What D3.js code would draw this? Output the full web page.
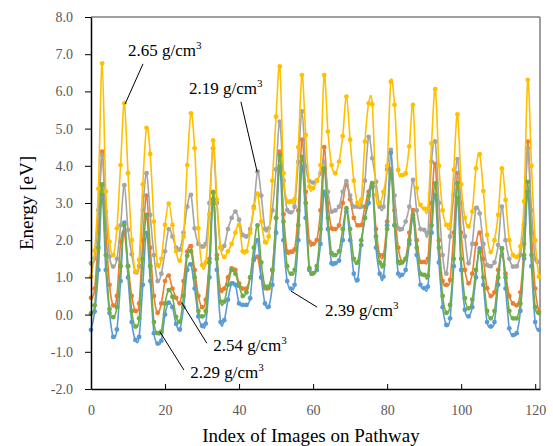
<!DOCTYPE html>
<html>
<head>
<meta charset="utf-8">
<script src="https://cdn.jsdelivr.net/npm/d3@7"></script>
<style>
body { margin: 0; background: #fff; }
svg, text { font-family: "Liberation Serif", "Times New Roman", serif; }
</style>
</head>
<body>
<svg width="553" height="446"></svg>
<script>
// energy along the pathway, one value per image index (0..121)
let yellow = [
1.02,1.72,3.38,6.75,3.31,1.96,
1.60,2.32,4.02,5.68,3.80,2.00,
1.16,1.47,3.50,5.02,4.32,2.50,
1.33,1.50,2.41,2.98,2.41,1.70,
1.45,2.10,4.02,5.41,4.47,2.32,
1.33,1.40,2.70,4.68,3.10,1.80,
1.55,1.70,1.90,2.20,2.41,1.70,
1.70,2.20,2.86,3.25,2.50,1.95,
2.10,3.60,5.32,6.67,3.80,3.04,
3.04,3.10,4.50,6.44,4.83,3.44,
3.40,3.60,4.02,6.44,4.92,4.02,
3.80,4.11,4.80,5.86,4.70,3.60,
3.00,3.08,4.65,5.68,5.65,3.22,
3.00,3.30,4.00,6.26,5.64,3.89,
3.75,3.80,4.52,5.64,3.40,2.95,
2.85,2.85,4.60,6.06,4.00,2.80,
2.41,2.41,3.89,5.38,3.50,2.60,
2.37,2.77,3.93,4.31,3.32,2.14,
1.68,2.00,2.68,3.93,3.08,2.00,
1.60,1.55,1.83,3.04,6.31,4.00,2.00,1.02]

let gray = [
1.38,1.51,2.81,4.29,2.77,1.56,
1.29,1.50,2.40,3.48,2.28,1.62,
1.14,1.30,2.81,3.80,2.68,1.60,
0.90,1.10,1.70,2.30,2.10,1.80,
1.75,2.20,2.90,3.22,2.32,1.90,
1.83,1.90,3.00,4.47,3.00,1.80,
1.85,2.30,2.60,2.77,2.55,2.14,
2.10,2.30,2.90,3.84,3.20,2.30,
2.32,2.80,3.90,5.19,3.60,2.81,
2.75,2.90,4.10,5.46,4.00,3.59,
3.55,3.60,3.80,4.11,3.30,2.77,
2.80,2.90,3.30,3.59,3.20,2.90,
2.90,2.90,3.60,4.78,4.20,3.57,
2.90,2.90,3.90,4.43,3.20,2.32,
2.30,2.50,2.90,3.62,2.80,2.30,
2.28,2.20,4.11,4.65,3.00,1.60,
1.10,2.10,3.22,4.18,3.00,2.10,
1.38,1.90,2.86,2.72,1.90,1.33,
1.30,1.40,1.87,2.90,2.00,1.50,
1.29,1.30,1.60,2.43,4.47,2.80,1.50,1.42]

let orange = [
0.45,0.70,2.20,4.38,2.30,0.80,
0.25,0.50,1.96,2.20,1.30,0.50,
0.10,0.30,2.00,3.20,1.80,0.50,
0.05,0.30,0.90,1.05,0.70,0.45,
0.30,0.90,1.69,1.84,1.20,0.50,
0.20,0.40,1.50,3.30,1.60,0.66,
0.70,1.00,1.24,1.20,0.84,0.70,
0.70,1.00,1.47,1.55,1.00,0.71,
0.71,1.20,2.60,4.38,2.70,1.69,
1.69,1.75,2.80,4.70,3.30,1.96,
1.90,2.00,2.80,4.50,3.00,2.32,
2.30,2.40,3.00,3.49,3.10,2.60,
2.40,2.41,2.90,3.30,3.44,2.30,
1.60,1.60,2.50,3.90,2.80,1.80,
1.42,1.50,2.20,2.81,2.00,1.42,
1.42,1.50,3.00,4.05,2.00,0.90,
0.80,0.93,2.20,3.80,2.20,1.20,
0.84,1.10,1.90,2.20,1.50,0.71,
0.50,0.60,1.20,1.60,1.10,0.50,
0.30,0.25,0.60,1.90,4.65,2.20,0.70,0.08]

let green = [
0.03,0.25,1.80,3.50,1.60,0.15,
-0.07,0.20,1.30,2.41,1.30,0.10,
-0.32,-0.10,1.50,2.68,1.30,-0.20,
-0.50,-0.46,0.30,0.66,0.48,-0.06,
-0.19,0.50,1.58,1.70,1.00,0.10,
-0.05,0.10,1.40,3.28,1.50,0.35,
0.35,0.80,1.20,1.10,0.77,0.50,
0.60,1.00,1.80,2.40,1.40,0.75,
0.75,1.20,2.60,4.29,2.50,1.30,
1.10,1.20,2.40,4.24,3.00,1.25,
1.11,1.30,2.30,3.93,2.60,1.65,
1.60,1.70,2.30,2.86,2.30,1.50,
1.40,2.00,2.60,3.20,3.53,2.10,
1.40,1.33,2.30,3.80,2.40,1.42,
1.40,1.50,2.00,2.68,1.80,1.10,
1.07,1.05,2.40,3.53,1.80,0.50,
0.05,0.26,1.50,3.53,1.50,0.44,
0.17,0.40,1.20,1.69,1.00,0.10,
-0.10,0.10,1.00,1.78,1.00,0.10,
-0.10,-0.10,0.30,1.60,3.57,1.60,0.20,0.04]

let blue = [
-0.41,0.08,1.20,3.22,1.20,0.04,
-0.60,-0.40,0.90,2.47,1.00,-0.20,
-0.68,-0.60,0.80,2.19,0.90,-0.50,
-0.78,-0.70,0.00,0.32,0.20,-0.25,
-0.40,0.20,1.20,1.35,0.70,-0.05,
-0.30,-0.24,1.00,3.10,1.20,-0.20,
-0.15,0.40,0.84,0.80,0.30,0.26,
0.26,0.44,1.50,2.00,1.00,0.30,
0.21,0.80,2.20,3.98,2.00,0.90,
0.70,0.80,2.00,3.98,2.60,1.20,
1.11,1.20,1.90,3.30,2.30,1.38,
1.38,1.45,2.00,2.77,2.00,1.10,
0.93,1.87,2.60,3.00,3.44,1.80,
1.10,1.02,2.40,4.35,2.40,1.10,
1.07,1.20,1.90,2.60,1.60,0.80,
0.71,0.75,2.20,3.22,1.40,0.20,
-0.28,-0.10,1.30,3.13,1.20,0.13,
-0.05,0.20,1.00,1.78,0.80,-0.20,
-0.32,-0.20,0.80,1.78,0.70,-0.37,
-0.55,-0.50,0.10,1.50,3.30,1.30,-0.20,-0.41]

let xTicks = [0, 20, 40, 60, 80, 100, 120]
let yTicks = [-2, -1, 0, 1, 2, 3, 4, 5, 6, 7, 8]

// labels: text, anchor point on the curve, end of the pointer near the text, text position (data units)
let labels = [
  {text: '2.65 g/cm', at: [9.2, 5.66], from: [14.05, 6.74], pos: [10.0, 6.94]},
  {text: '2.19 g/cm', at: [44.9, 3.83], from: [40.5, 5.72], pos: [26.5, 5.93]},
  {text: '2.39 g/cm', at: [54.05, 0.63], from: [61.1, 0.20], pos: [63.2, -0.04]},
  {text: '2.54 g/cm', at: [24.5, 0.32], from: [31.3, -0.77], pos: [33.0, -0.98]},
  {text: '2.29 g/cm', at: [18.6, -0.46], from: [25.1, -1.49], pos: [26.8, -1.70]}
]

let series = [
  {values: orange, color: '#ED7D31'},
  {values: gray, color: '#A5A5A5'},
  {values: yellow, color: '#FFC000'},
  {values: blue, color: '#5B9BD5'},
  {values: green, color: '#70AD47'}
]

let serif = '"Liberation Serif", "Times New Roman", serif'
let svg = d3.select('svg')
let x = d3.scaleLinear().domain([0, 121.3]).range([91, 540])
let y = d3.scaleLinear().domain([-2, 8]).range([389, 17])

// frame of the plot area
svg.append('line').attr('x1', x(0)).attr('x2', x(121.3)).attr('y1', y(8)).attr('y2', y(8))
    .attr('stroke', '#7f7f7f').attr('stroke-width', 1.5)
svg.append('line').attr('x1', x(121.3)).attr('x2', x(121.3)).attr('y1', y(8)).attr('y2', y(-2))
    .attr('stroke', '#7f7f7f').attr('stroke-width', 1.5)

let line = d3.line()
    .x((d, i) => x(i))
    .y(d => y(d))
    .curve(d3.curveCatmullRom.alpha(0))

series.forEach(s => {
    svg.append('path')
        .attr('d', line(s.values))
        .attr('fill', 'none')
        .attr('stroke', s.color)
        .attr('stroke-width', 1.6)
    svg.append('g').selectAll('circle')
        .data(s.values)
        .enter()
        .append('circle')
        .attr('cx', (d, i) => x(i))
        .attr('cy', d => y(d))
        .attr('r', 2.4)
        .attr('fill', s.color)
})

let yAxis = svg.append('g')
    .attr('transform', `translate(${x(0)},0)`)
    .call(d3.axisLeft(y).tickValues(yTicks).tickFormat(d => d.toFixed(1)).tickSize(6).tickSizeOuter(0).tickPadding(12))
    .attr('font-family', serif)
yAxis.select('.domain').attr('stroke', '#000').attr('stroke-width', 1.5)
yAxis.selectAll('.tick line').attr('stroke', '#000')
yAxis.selectAll('.tick text').attr('fill', '#595959').style('font-size', '14px').style('font-family', serif)

let xAxis = svg.append('g')
    .attr('transform', `translate(0,${y(-2)})`)
    .call(d3.axisBottom(x).tickValues(xTicks).tickSize(-5).tickSizeOuter(0).tickPadding(16))
    .attr('font-family', serif)
xAxis.select('.domain').attr('stroke', '#000').attr('stroke-width', 1.5)
xAxis.selectAll('.tick line').attr('stroke', '#000')
xAxis.selectAll('.tick text').attr('fill', '#595959').style('font-size', '14px').style('font-family', serif)

svg.append('text')
    .attr('x', 311).attr('y', 442)
    .attr('text-anchor', 'middle')
    .style('font-size', '19px').style('font-family', serif)
    .text('Index of Images on Pathway')

svg.append('text')
    .attr('transform', 'translate(33,203) rotate(-90)')
    .attr('text-anchor', 'middle')
    .style('font-size', '19px').style('font-family', serif)
    .text('Energy [eV]')

labels.forEach(l => {
    svg.append('line')
        .attr('x1', x(l.from[0])).attr('y1', y(l.from[1]))
        .attr('x2', x(l.at[0])).attr('y2', y(l.at[1]))
        .attr('stroke', '#000').attr('stroke-width', 1)
    let t = svg.append('text')
        .attr('x', x(l.pos[0])).attr('y', y(l.pos[1]))
        .style('font-size', '17px').style('font-family', serif)
        .text(l.text)
    t.append('tspan').attr('dy', -7).style('font-size', '11px').text('3')
})
</script>
</body>
</html>
